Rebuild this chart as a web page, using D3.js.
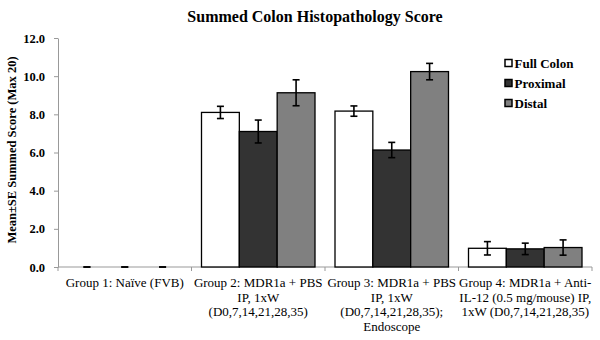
<!DOCTYPE html>
<html>
<head>
<meta charset="utf-8">
<script src="https://cdn.jsdelivr.net/npm/d3@7"></script>
<style>
  body { margin: 0; background: #fff; }
  svg, svg text { font-family: "Liberation Serif", "Times New Roman", serif; }
</style>
</head>
<body>
<div class="chart"></div>
<script>
const groups = [
  ["Group 1: Na\u00efve (FVB)"],
  ["Group 2: MDR1a + PBS", "IP, 1xW", "(D0,7,14,21,28,35)"],
  ["Group 3: MDR1a + PBS", "IP, 1xW", "(D0,7,14,21,28,35);", "Endoscope"],
  ["Group 4: MDR1a + Anti-", "IL-12 (0.5 mg/mouse) IP,", "1xW (D0,7,14,21,28,35)"]
];
const seriesNames = ["Full Colon", "Proximal", "Distal"];
const seriesColors = ["#ffffff", "#333333", "#808080"];
const fullColon = [0, 8.1, 8.17, 0.98];
const fullColonSE = [0, 0.32, 0.27, 0.35];
const proximal = [0, 7.1, 6.13, 0.95];
const proximalSE = [0, 0.6, 0.4, 0.3];
const distal = [0, 9.13, 10.24, 1.02];
const distalSE = [0, 0.68, 0.43, 0.4];
const yTicks = [0, 2, 4, 6, 8, 10, 12];

const values = [fullColon, proximal, distal];
const errors = [fullColonSE, proximalSE, distalSE];

const width = 600, height = 340;
const margin = {top: 38, right: 8, bottom: 73, left: 58};
const plotW = 592 - margin.left, plotH = height - margin.top - margin.bottom;

const svg = d3.select(".chart").append("svg")
  .attr("width", width).attr("height", height);

svg.append("text")
  .attr("x", 315).attr("y", 22)
  .attr("text-anchor", "middle")
  .attr("font-size", 16).attr("font-weight", "bold")
  .text("Summed Colon Histopathology Score");

const g = svg.append("g")
  .attr("transform", "translate(" + margin.left + "," + margin.top + ")");

let x0 = d3.scaleBand().domain(d3.range(groups.length)).range([0, plotW]).padding(0);
let x1 = d3.scaleBand().domain(d3.range(seriesNames.length))
  .range([10, x0.bandwidth() - 10]).padding(0);
let y = d3.scaleLinear().domain([0, 12]).range([plotH, 0]);

// y axis
const yAxis = g.append("g")
  .call(d3.axisLeft(y).tickValues(yTicks).tickFormat(d3.format(".1f")).tickSize(4).tickSizeOuter(0));
yAxis.select(".domain").attr("stroke", "#999");
yAxis.selectAll(".tick line").attr("stroke", "#999");
yAxis.selectAll(".tick text")
  .attr("font-size", 12.5).attr("font-weight", "bold")
  .attr("font-family", "Liberation Serif").attr("fill", "#000").attr("x", -13);

svg.append("text")
  .attr("transform", "translate(16," + 150 + ") rotate(-90)")
  .attr("text-anchor", "middle")
  .attr("font-size", 12.5).attr("font-weight", "bold")
  .text("Mean\u00b1SE Summed Score (Max 20)");

// x axis line with ticks at group boundaries
const xa = g.append("g").attr("transform", "translate(0," + plotH + ")");
xa.append("line").attr("x1", 0).attr("x2", plotW).attr("stroke", "#999");
xa.selectAll("line.tk").data(d3.range(groups.length + 1)).join("line")
  .attr("class", "tk")
  .attr("x1", d => d * x0.step()).attr("x2", d => d * x0.step())
  .attr("y1", 0).attr("y2", 4).attr("stroke", "#999");

const labels = xa.selectAll("text").data(groups).join("text")
  .attr("text-anchor", "middle")
  .attr("font-size", 13)
  .attr("transform", (d, i) => "translate(" + (x0(i) + x0.bandwidth() / 2) + ",20)");
labels.selectAll("tspan").data(d => d).join("tspan")
  .attr("x", 0).attr("dy", (d, i) => i === 0 ? 0 : 14.6)
  .text(d => d);

// bars
const grp = g.selectAll("g.grp").data(groups).join("g")
  .attr("class", "grp")
  .attr("transform", (d, i) => "translate(" + x0(i) + ",0)");

seriesNames.forEach((s, si) => {
  grp.append("rect")
    .attr("x", x1(si)).attr("width", x1.bandwidth())
    .attr("y", (d, i) => y(values[si][i]))
    .attr("height", (d, i) => plotH - y(values[si][i]))
    .attr("fill", seriesColors[si])
    .attr("stroke", "#000").attr("stroke-width", 1.3);
});

// error bars
seriesNames.forEach((s, si) => {
  grp.each(function (d, i) {
    const cx = x1(si) + x1.bandwidth() / 2;
    const v = values[si][i], e = errors[si][i];
    const eg = d3.select(this).append("g").attr("stroke", "#000").attr("stroke-width", 1.6);
    eg.append("line").attr("x1", cx).attr("x2", cx).attr("y1", y(v + e)).attr("y2", y(v - e));
    eg.append("line").attr("x1", cx - 3.5).attr("x2", cx + 3.5).attr("y1", y(v + e)).attr("y2", y(v + e));
    eg.append("line").attr("x1", cx - 3.5).attr("x2", cx + 3.5).attr("y1", y(v - e)).attr("y2", y(v - e));
  });
});

// legend
const leg = svg.append("g").attr("transform", "translate(505,63)");
const li = leg.selectAll("g").data(seriesNames).join("g")
  .attr("transform", (d, i) => "translate(0," + i * 20 + ")");
li.append("rect").attr("x", 0).attr("y", -3.5).attr("width", 7).attr("height", 7)
  .attr("fill", (d, i) => seriesColors[i]).attr("stroke", "#000").attr("stroke-width", 1.5);
li.append("text").attr("x", 9.5).attr("y", 4.5)
  .attr("font-size", 13).attr("font-weight", "bold")
  .text(d => d);
</script>
</body>
</html>
